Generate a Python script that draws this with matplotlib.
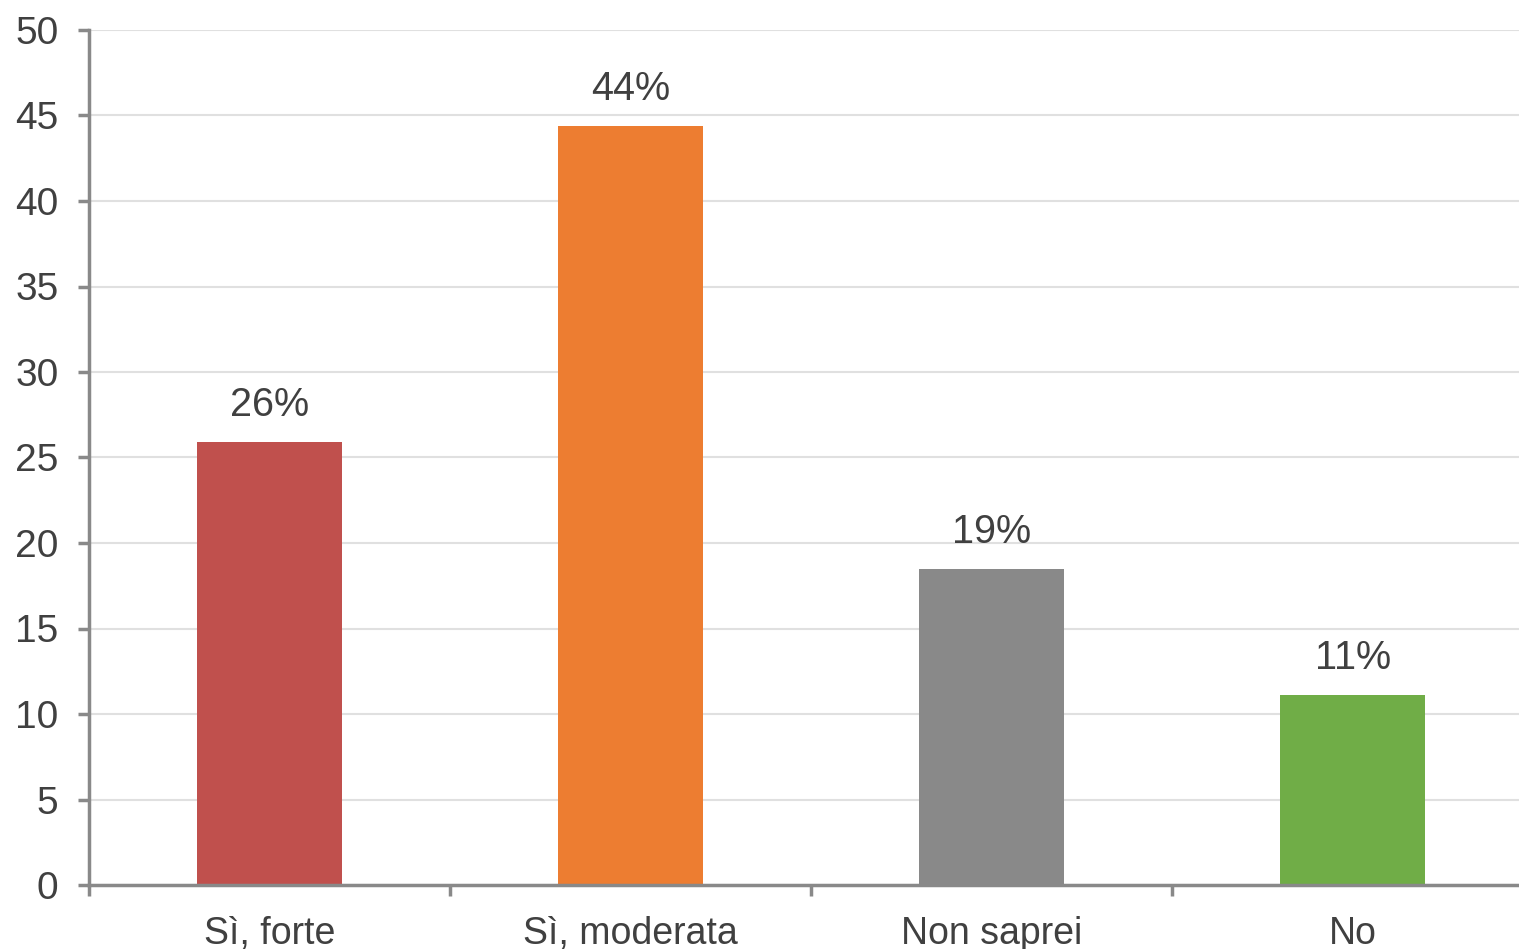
import matplotlib.pyplot as plt
import numpy as np

plt.rcParams['font.family'] = ['Liberation Sans', 'DejaVu Sans']

# Dati
categorie = ['Sì, forte', 'Sì, moderata', 'Non saprei', 'No']
valori = [25.9, 44.4, 18.5, 11.1]
etichette = ['26%', '44%', '19%', '11%']
colori = ['#C0504D', '#ED7D31', '#898989', '#70AD47']

W, H = 1519, 949
fig = plt.figure(figsize=(W / 100, H / 100), dpi=100)
ax = fig.add_axes([89 / W, (H - 885) / H, 1 - 89 / W, (885 - 30) / H])

x = np.arange(len(categorie))
barre = ax.bar(x, valori, width=0.40, color=colori, zorder=3)

for b, et in zip(barre, etichette):
    ax.annotate(et, (b.get_x() + b.get_width() / 2, b.get_height()),
                xytext=(0, 13), textcoords='offset points',
                ha='center', va='bottom', fontsize=28.5, color='#404040')

ax.set_ylim(0, 50)
ax.set_xlim(-0.5, 3.461)
ax.set_yticks(np.arange(0, 51, 5))
ax.set_xticks([-0.5, 0.5, 1.5, 2.5])
ax.set_xticklabels([])
ax.set_xticks(x, minor=True)
ax.set_xticklabels(categorie, minor=True)

grigio = '#898989'
ax.tick_params(axis='y', length=8, width=2.5, color=grigio, labelsize=28,
               labelcolor='#404040', pad=14)
ax.tick_params(axis='x', which='major', length=8, width=2.5, color=grigio)
ax.tick_params(axis='x', which='minor', length=0, labelsize=27,
               labelcolor='#404040', pad=22)

ax.grid(axis='y', color='#e0e0e0', linewidth=1.5, zorder=0)
ax.set_axisbelow(True)
for s in ['top', 'right']:
    ax.spines[s].set_visible(False)
for s in ['left', 'bottom']:
    ax.spines[s].set_color(grigio)
    ax.spines[s].set_linewidth(2.5)
    ax.spines[s].set_zorder(4)

fig.savefig('out.png', dpi=100)
